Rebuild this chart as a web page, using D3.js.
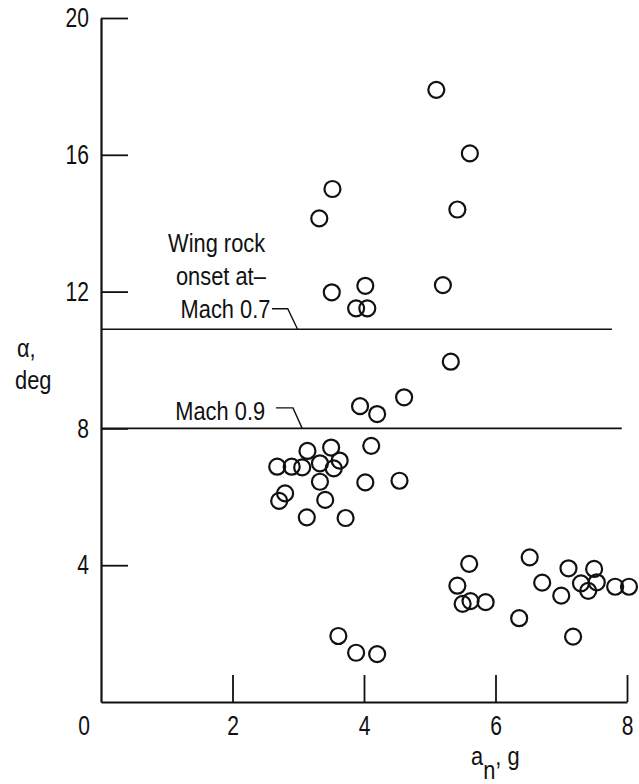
<!DOCTYPE html>
<html>
<head>
<meta charset="utf-8">
<script src="https://cdn.jsdelivr.net/npm/d3@7"></script>
<style>
  body { margin: 0; background: #fff; }
  svg text { font-family: "Liberation Sans", Arial, sans-serif; fill: #111; }
</style>
</head>
<body>
<script>
// normal acceleration a_n (g) and angle of attack alpha (deg)
const anValues = [
    5.10, 5.61, 5.42, 3.52, 3.32, 3.51, 4.02, 3.88, 4.05, 5.20,
    5.32, 4.61, 3.94, 4.20, 4.11, 3.14, 3.50, 3.63, 3.33, 2.68,
    2.90, 3.06, 3.54, 3.33, 4.02, 4.54, 2.80, 2.71, 3.41, 3.13,
    3.72, 3.61, 3.88, 4.20, 5.60, 5.42, 5.50, 5.62, 5.85, 6.36,
    6.52, 6.71, 7.00, 7.11, 7.18, 7.30, 7.41, 7.50, 7.54, 7.82,
    8.03
];
const alphaValues = [
    17.9, 16.04, 14.4, 15.0, 14.14, 11.98, 12.17, 11.51, 11.51, 12.19,
    9.95, 8.91, 8.65, 8.42, 7.49, 7.34, 7.44, 7.06, 6.98, 6.88,
    6.88, 6.86, 6.83, 6.44, 6.42, 6.47, 6.10, 5.88, 5.91, 5.40,
    5.38, 1.93, 1.44, 1.40, 4.04, 3.40, 2.87, 2.95, 2.92, 2.45,
    4.23, 3.49, 3.11, 3.91, 1.91, 3.47, 3.25, 3.89, 3.50, 3.37,
    3.37
];

const xTicks = [2, 4, 6, 8];
const yTicks = [4, 8, 12, 16, 20];

// wing rock onset lines
const onsetLabels = ['Mach 0.7', 'Mach 0.9'];
const onsetAlpha = [10.9, 8.0];
const onsetEnd = [7.77, 7.92];

const points = anValues.map((v, i) => ({ an: v, alpha: alphaValues[i] }));

const W = 639, H = 784;
const margin = { top: 18, right: 12, bottom: 82, left: 101 };

const svg = d3.select('body').append('svg')
    .attr('width', W)
    .attr('height', H);

const x = d3.scaleLinear().domain([0, 8]).range([margin.left, 627]);
const y = d3.scaleLinear().domain([0, 20]).range([H - margin.bottom, margin.top]);

const fontSize = 26, narrow = 0.84;       // condensed look: squeeze text horizontally
const tickFont = 27, tickNarrow = 0.78;

// put a condensed text at (px, py)
function label(px, py, str, anchor) {
    return svg.append('text')
        .attr('transform', `translate(${px}, ${py}) scale(${narrow}, 1)`)
        .attr('text-anchor', anchor || 'start')
        .style('font-size', fontSize + 'px')
        .text(str);
}

// x axis, ticks pointing up into the plot
const xAxis = svg.append('g')
    .attr('transform', `translate(0, ${y(0)})`)
    .call(d3.axisBottom(x).tickValues(xTicks).tickSizeInner(-27).tickSizeOuter(0).tickPadding(14)
        .tickFormat(d3.format('d')));

// y axis, ticks pointing right
const yAxis = svg.append('g')
    .attr('transform', `translate(${x(0)}, 0)`)
    .call(d3.axisLeft(y).tickValues(yTicks).tickSizeInner(-27).tickSizeOuter(0).tickPadding(12)
        .tickFormat(d3.format('d')));

[xAxis, yAxis].forEach(g => {
    g.select('.domain').attr('stroke', '#111').attr('stroke-width', 2.2);
    g.selectAll('.tick line').attr('stroke', '#111').attr('stroke-width', 1.8);
    g.selectAll('.tick text')
        .style('font-size', tickFont + 'px')
        .attr('fill', '#111');
});
xAxis.selectAll('.tick text')
    .attr('transform', `scale(${tickNarrow}, 1)`);
yAxis.selectAll('.tick text')
    .attr('x', -12 / tickNarrow)
    .attr('transform', `scale(${tickNarrow}, 1)`);

// shared origin label
svg.append('text')
    .attr('transform', `translate(${x(0) - 17}, ${y(0) + 33}) scale(${tickNarrow}, 1)`)
    .attr('text-anchor', 'middle')
    .style('font-size', tickFont + 'px')
    .text('0');

// onset lines
svg.selectAll('.onset')
    .data(onsetAlpha)
    .enter().append('line')
    .attr('class', 'onset')
    .attr('x1', x(0))
    .attr('x2', (d, i) => x(onsetEnd[i]))
    .attr('y1', d => y(d))
    .attr('y2', d => y(d))
    .attr('stroke', '#111')
    .attr('stroke-width', 1.6);

// leader lines from the labels down to the onset lines (data units)
const leaderStart = [2.60, 2.66];
const leaderKink = [2.84, 2.92];
const leaderEnd = [2.99, 3.06];
const leaderHeight = [11.5, 8.6];

svg.selectAll('.leader')
    .data(onsetAlpha)
    .enter().append('path')
    .attr('class', 'leader')
    .attr('fill', 'none')
    .attr('stroke', '#111')
    .attr('stroke-width', 1.4)
    .attr('d', (d, i) => d3.line()([
        [x(leaderStart[i]), y(leaderHeight[i])],
        [x(leaderKink[i]), y(leaderHeight[i])],
        [x(leaderEnd[i]), y(d)]
    ]));

const labelX = [1.21, 1.13];
const labelBaseline = [11.22, 8.24];
onsetLabels.forEach((s, i) => label(x(labelX[i]), y(labelBaseline[i]), s));

label(x(1.02), y(13.16), 'Wing rock');
label(x(1.14), y(12.19), 'onset at\u2013');

// data points
svg.append('g')
    .selectAll('circle')
    .data(points)
    .enter().append('circle')
    .attr('cx', d => x(d.an))
    .attr('cy', d => y(d.alpha))
    .attr('r', 8)
    .attr('fill', 'none')
    .attr('stroke', '#111')
    .attr('stroke-width', 2.2);

// axis titles
label(17, 357, '\u03b1,');
label(15, 389, 'deg');

const xTitle = label(471, 765, '');
xTitle.append('tspan').text('a');
xTitle.append('tspan').attr('dy', 14).text('n');
xTitle.append('tspan').attr('dy', -14).text(', g');
</script>
</body>
</html>
